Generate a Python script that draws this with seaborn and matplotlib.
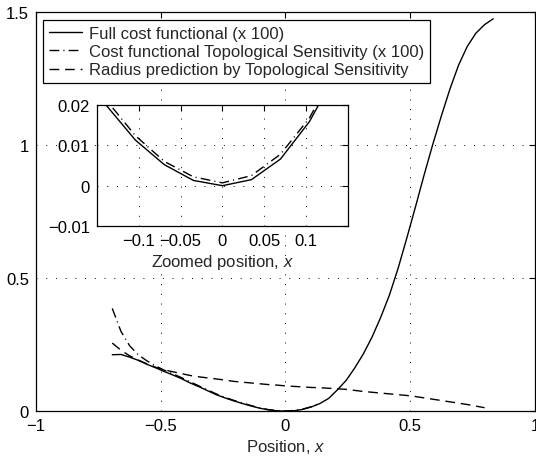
import matplotlib
matplotlib.use("Agg")
import matplotlib.pyplot as plt
import seaborn as sns
import pandas as pd

# ---- data ----
x_full = [-0.694, -0.6593, -0.6246, -0.5899, -0.5552, -0.5205, -0.4858, -0.4511,
          -0.4164, -0.3817, -0.347, -0.3123, -0.2776, -0.2429, -0.2082, -0.1735,
          -0.1388, -0.1041, -0.0694, -0.0347, 0.0, 0.0347, 0.0694, 0.1041, 0.1388,
          0.1735, 0.2082, 0.2429, 0.2776, 0.3123, 0.347, 0.3817, 0.4164, 0.4511,
          0.4858, 0.5205, 0.5552, 0.5899, 0.6246, 0.6593, 0.694, 0.7287, 0.7634,
          0.7981, 0.8328]
y_full = [0.212, 0.213, 0.203, 0.191, 0.176, 0.163, 0.149, 0.136,
          0.122, 0.106, 0.092, 0.077, 0.062, 0.050, 0.039, 0.029,
          0.0199, 0.0113, 0.0052, 0.0013, 0.0, 0.0015, 0.0066, 0.0159, 0.029,
          0.048, 0.080, 0.115, 0.162, 0.215, 0.278, 0.352, 0.435, 0.535,
          0.648, 0.765, 0.885, 1.000, 1.108, 1.210, 1.300, 1.370, 1.420,
          1.452, 1.474]

x_ts = [-0.694, -0.6593, -0.6246, -0.5899, -0.5552, -0.5205, -0.4858, -0.4511,
        -0.4164, -0.3817, -0.347, -0.3123, -0.2776, -0.2429, -0.2082, -0.1735,
        -0.1388, -0.1041, -0.0694, -0.0347, 0.0, 0.0347, 0.0694, 0.1041, 0.1388]
y_ts = [0.386, 0.300, 0.246, 0.212, 0.189, 0.170, 0.154, 0.140,
        0.126, 0.110, 0.095, 0.080, 0.065, 0.052, 0.041, 0.031,
        0.0212, 0.0124, 0.0060, 0.0022, 0.0007, 0.0025, 0.0078, 0.0168, 0.030]

x_rad = [-0.694, -0.6593, -0.6246, -0.5899, -0.5552, -0.5205, -0.4858, -0.4511,
         -0.4164, -0.3817, -0.347, -0.3123, -0.2776, -0.2429, -0.2082, -0.1735,
         -0.1388, -0.1041, -0.0694, -0.0347, 0.0, 0.0347, 0.0694, 0.1041, 0.1388,
         0.1735, 0.2082, 0.2429, 0.2776, 0.3123, 0.347, 0.3817, 0.4164, 0.4511,
         0.4858, 0.5205, 0.5552, 0.5899, 0.6246, 0.6593, 0.694, 0.7287, 0.7634,
         0.7981]
y_rad = [0.256, 0.229, 0.208, 0.192, 0.178, 0.165, 0.155, 0.148,
         0.141, 0.134, 0.129, 0.125, 0.121, 0.117, 0.112, 0.109,
         0.106, 0.103, 0.100, 0.098, 0.095, 0.093, 0.091, 0.089, 0.088,
         0.086, 0.084, 0.082, 0.078, 0.074, 0.071, 0.068, 0.065, 0.062,
         0.059, 0.055, 0.050, 0.045, 0.040, 0.035, 0.030, 0.025, 0.019,
         0.013]

labels = ["Full cost functional (x 100)",
          "Cost functional Topological Sensitivity (x 100)",
          "Radius prediction by Topological Sensitivity"]
main_xticks = [-1, -0.5, 0, 0.5, 1]
main_yticks = [0, 0.5, 1, 1.5]
main_yticklabels = ["0", "0.5", "1", "1.5"]
main_xticklabels = ["\u22121", "\u22120.5", "0", "0.5", "1"]
zoom_xticks = [-0.1, -0.05, 0, 0.05, 0.1]
zoom_xticklabels = ["\u22120.1", "\u22120.05", "0", "0.05", "0.1"]
zoom_yticks = [-0.01, 0, 0.01, 0.02]
zoom_yticklabels = ["\u22120.01", "0", "0.01", "0.02"]

# ---- style ----
sns.set_style("white")
plt.rcParams["font.family"] = ["Liberation Sans", "DejaVu Sans"]
plt.rcParams["mathtext.fontset"] = "custom"
plt.rcParams["mathtext.it"] = "Liberation Sans:italic"
plt.rcParams["mathtext.rm"] = "Liberation Sans"
plt.rcParams["font.size"] = 12

df_full = pd.DataFrame({"x": x_full, "y": y_full})
df_ts = pd.DataFrame({"x": x_ts, "y": y_ts})
df_rad = pd.DataFrame({"x": x_rad, "y": y_rad})

LS_SOLID = "-"
LS_DASHDOT = (0, (7.0, 3.0, 0.8, 3.0))
LS_DASHED = (0, (7.0, 4.2))
LW = 1.0
GRID_LS = (0, (1, 9))


def style_axes(ax, xticks, xtl, yticks, ytl):
    ax.set_xticks(xticks)
    ax.set_xticklabels(xtl)
    ax.set_yticks(yticks)
    ax.set_yticklabels(ytl)
    ax.tick_params(direction="in", length=4, width=0.8, top=True, right=True,
                   labelsize=12, colors="black", pad=5)
    for s in ax.spines.values():
        s.set_visible(True)
        s.set_color("black")
        s.set_linewidth(0.9)
    ax.grid(True, color="black", linestyle=GRID_LS, linewidth=0.7)
    ax.set_axisbelow(True)


fig = plt.figure(figsize=(5.36, 4.60), dpi=100)
ax = fig.add_axes([0.067, 0.104, 0.931, 0.868])

sns.lineplot(data=df_full, x="x", y="y", ax=ax, color="black", linewidth=LW,
             linestyle=LS_SOLID, label=labels[0], sort=False)
sns.lineplot(data=df_ts, x="x", y="y", ax=ax, color="black", linewidth=LW,
             linestyle=LS_DASHDOT, label=labels[1], sort=False)
sns.lineplot(data=df_rad, x="x", y="y", ax=ax, color="black", linewidth=LW,
             linestyle=LS_DASHED, label=labels[2], sort=False)

ax.set_xlim(-1, 1)
ax.set_ylim(0, 1.5)
style_axes(ax, main_xticks, main_xticklabels, main_yticks, main_yticklabels)
ax.set_xlabel("Position, $x$", fontsize=12, labelpad=3)
ax.set_ylabel("")

leg = ax.legend(loc="upper left", bbox_to_anchor=(7 / 499, 1 - 8 / 399),
                borderaxespad=0, frameon=True, fancybox=False, framealpha=1,
                edgecolor="black", fontsize=12, handlelength=2.0,
                handletextpad=0.4, labelspacing=0.2, borderpad=0.35)
leg.get_frame().set_linewidth(0.9)

# ---- inset ----
axin = fig.add_axes([0.181, 0.5065, 0.468, 0.263])
axin.set_facecolor("white")
sns.lineplot(data=df_full, x="x", y="y", ax=axin, color="black", linewidth=LW,
             linestyle=LS_SOLID, sort=False)
sns.lineplot(data=df_ts, x="x", y="y", ax=axin, color="black", linewidth=LW,
             linestyle=LS_DASHDOT, sort=False)
axin.set_xlim(-0.15, 0.15)
axin.set_ylim(-0.01, 0.02)
style_axes(axin, zoom_xticks, zoom_xticklabels, zoom_yticks, zoom_yticklabels)
axin.set_xlabel("Zoomed position, $x$", fontsize=12, labelpad=3)
axin.set_ylabel("")
if axin.get_legend() is not None:
    axin.get_legend().remove()

fig.savefig("out.png", dpi=100)
